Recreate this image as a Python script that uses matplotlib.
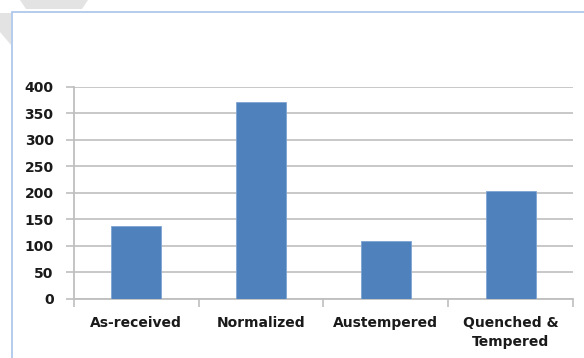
import matplotlib
matplotlib.use("Agg")
import matplotlib.pyplot as plt
from matplotlib.patches import Polygon, Rectangle

categories = ["As-received", "Normalized", "Austempered", "Quenched &\nTempered"]
values = [137, 372, 109, 203]
yticks = [0, 50, 100, 150, 200, 250, 300, 350, 400]

W, H = 584, 358
fig = plt.figure(figsize=(W / 100, H / 100), dpi=100)
fig.patch.set_facecolor("white")

def px(x, y):
    return (x / W, 1 - y / H)

# decorative watermark shapes and frame border
fig.patches.append(Polygon([px(20, 0), px(88, 0), px(82, 9), px(26, 9)], closed=True,
                           transform=fig.transFigure, facecolor="#e3e3e3", edgecolor="none", zorder=0))
fig.patches.append(Polygon([px(0, 13), px(11, 13), px(11, 45), px(0, 32)], closed=True,
                           transform=fig.transFigure, facecolor="#e3e3e3", edgecolor="none", zorder=0))
fig.patches.append(Rectangle(px(12, 400), (W + 20) / W, (400 - 12) / H,
                             transform=fig.transFigure, facecolor="none",
                             edgecolor="#a9c4ea", linewidth=1.2, zorder=1))

left, right, top, bottom = 73.7, 573, 86.7, 298.5
ax = fig.add_axes([left / W, 1 - bottom / H, (right - left) / W, (bottom - top) / H])

x = list(range(len(categories)))
ax.bar(x, values, width=0.4, color="#4f81bd", edgecolor="#7fa3d3", linewidth=0.6, zorder=3)

ax.set_xlim(-0.5, len(categories) - 0.5)
ax.set_ylim(0, 400)
ax.set_yticks(yticks)
ax.yaxis.grid(True, color="#c4c4c4", linewidth=1.3, zorder=0)
ax.set_axisbelow(True)

for s in ["top", "right"]:
    ax.spines[s].set_visible(False)
for s in ["left", "bottom"]:
    ax.spines[s].set_color("#bfbfbf")
    ax.spines[s].set_linewidth(1.3)

font = dict(family=["DejaVu Sans"], weight="bold", size=10, color="#1a1a1a")
ax.set_xticks(x)
ax.set_xticklabels(categories, fontdict=font, linespacing=1.5, multialignment="center")
ax.tick_params(axis="x", which="major", length=0, pad=12.5)
ax.set_xticks([i - 0.5 for i in range(len(categories) + 1)], minor=True)
ax.tick_params(axis="x", which="minor", length=6, color="#bfbfbf", width=1.2)
ax.set_yticklabels([str(v) for v in yticks], fontdict=font)
ax.tick_params(axis="y", length=6, color="#bfbfbf", width=1.2, pad=8.5)

fig.savefig("out.png", dpi=100)
